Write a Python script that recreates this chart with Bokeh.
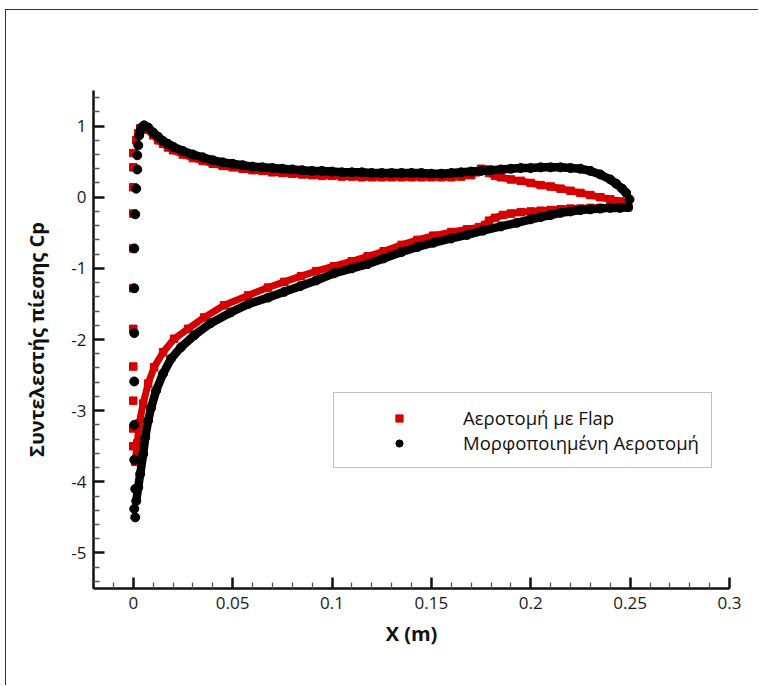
from bokeh.plotting import figure
from bokeh.models import (Range1d, FixedTicker, CustomJSTickFormatter,
                          Legend, LegendItem)
from bokeh.embed import file_html
from bokeh.resources import INLINE

# ---- Pressure coefficient data, X in metres ----
# Aerofoil with flap: isolated points round the leading edge
flap_le_x = [0.0, 0.0, 0.0, 0.0, 0.0, 0.0, 0.0, 0.0, 0.0, 0.0, 0.0]
flap_le_cp = [0.62, 0.42, 0.14, -0.23, -0.72, -1.28, -1.85, -2.38, -2.86, -3.25, -3.50]

# Aerofoil with flap: upper branch (stagnation peak to trailing edge)
flap_up_x = [0.0015, 0.0025, 0.0035, 0.005, 0.007, 0.01, 0.0125, 0.015, 0.0175, 0.02,
             0.025, 0.03, 0.035, 0.04, 0.045, 0.05, 0.055, 0.06, 0.065, 0.07,
             0.075, 0.08, 0.085, 0.09, 0.095, 0.1, 0.105, 0.11, 0.115, 0.12,
             0.125, 0.13, 0.135, 0.14, 0.145, 0.15, 0.155, 0.16, 0.165, 0.17,
             0.1725, 0.175, 0.177, 0.179, 0.182, 0.185, 0.19, 0.195, 0.2, 0.205,
             0.21, 0.215, 0.22, 0.225, 0.23, 0.235, 0.24, 0.245, 0.249]
flap_up_cp = [0.80, 0.90, 0.97, 0.99, 0.95, 0.87, 0.80, 0.75, 0.70, 0.66,
              0.60, 0.55, 0.51, 0.47, 0.44, 0.42, 0.40, 0.38, 0.37, 0.35,
              0.34, 0.33, 0.32, 0.31, 0.30, 0.30, 0.29, 0.29, 0.28, 0.28,
              0.28, 0.28, 0.28, 0.28, 0.28, 0.28, 0.28, 0.28, 0.29, 0.31,
              0.35, 0.40, 0.39, 0.34, 0.30, 0.28, 0.25, 0.23, 0.20, 0.17,
              0.15, 0.12, 0.09, 0.06, 0.03, 0.00, -0.03, -0.06, -0.09]

# Aerofoil with flap: lower branch (suction peak to trailing edge)
flap_lo_x = [0.001, 0.002, 0.003, 0.005, 0.0075, 0.0105, 0.015, 0.0206, 0.0276, 0.0357,
             0.0457, 0.0578, 0.0678, 0.076, 0.0844, 0.092, 0.101, 0.11, 0.118, 0.126,
             0.135, 0.143, 0.151, 0.16, 0.168, 0.174, 0.177, 0.179, 0.182, 0.186,
             0.19, 0.195, 0.2, 0.205, 0.21, 0.215, 0.22, 0.225, 0.23, 0.235,
             0.24, 0.245, 0.249]
flap_lo_cp = [-3.72, -3.46, -3.18, -2.90, -2.62, -2.39, -2.18, -1.99, -1.85, -1.69,
              -1.52, -1.38, -1.27, -1.19, -1.11, -1.04, -0.97, -0.90, -0.83, -0.76,
              -0.67, -0.60, -0.54, -0.49, -0.45, -0.42, -0.39, -0.33, -0.29, -0.25,
              -0.23, -0.21, -0.20, -0.19, -0.18, -0.17, -0.16, -0.16, -0.15, -0.15,
              -0.14, -0.14, -0.14]

# Morphed aerofoil: isolated points round the leading edge and the trailing edge
morph_iso_x = [0.0025, 0.002, 0.002, 0.0015, 0.001, 0.0005, 0.0005, 0.0005, 0.0005,
               0.0005, 0.0005, 0.001, 0.0005, 0.001, 0.2497]
morph_iso_cp = [0.73, 0.59, 0.39, 0.12, -0.24, -0.72, -1.28, -1.91, -2.59,
                -3.2, -3.69, -4.1, -4.38, -4.5, -0.03]

# Morphed aerofoil: upper branch
morph_up_x = [0.003, 0.004, 0.0055, 0.0075, 0.01, 0.0125, 0.015, 0.0175, 0.02, 0.025,
              0.03, 0.035, 0.04, 0.045, 0.05, 0.055, 0.06, 0.065, 0.07, 0.075,
              0.08, 0.085, 0.09, 0.095, 0.1, 0.105, 0.11, 0.115, 0.12, 0.125,
              0.13, 0.135, 0.14, 0.145, 0.15, 0.155, 0.16, 0.165, 0.17, 0.175,
              0.18, 0.185, 0.19, 0.195, 0.2, 0.205, 0.21, 0.215, 0.22, 0.225,
              0.23, 0.235, 0.24, 0.243, 0.246, 0.248]
morph_up_cp = [0.87, 0.97, 1.01, 0.98, 0.91, 0.85, 0.79, 0.75, 0.71, 0.65,
               0.60, 0.56, 0.52, 0.49, 0.47, 0.45, 0.43, 0.42, 0.41, 0.40,
               0.39, 0.38, 0.37, 0.37, 0.36, 0.35, 0.35, 0.35, 0.34, 0.34,
               0.34, 0.34, 0.34, 0.34, 0.33, 0.33, 0.34, 0.35, 0.36, 0.37,
               0.38, 0.39, 0.40, 0.41, 0.41, 0.42, 0.42, 0.42, 0.41, 0.40,
               0.37, 0.32, 0.25, 0.19, 0.12, 0.06]

# Morphed aerofoil: lower branch
morph_lo_x = [0.0015, 0.0025, 0.0035, 0.005, 0.006, 0.0075, 0.009, 0.0115, 0.015, 0.019,
              0.024, 0.0307, 0.039, 0.049, 0.058, 0.068, 0.076, 0.084, 0.092, 0.101,
              0.11, 0.118, 0.126, 0.135, 0.143, 0.151, 0.16, 0.168, 0.176, 0.185,
              0.193, 0.2, 0.205, 0.21, 0.215, 0.22, 0.225, 0.23, 0.235, 0.24,
              0.245, 0.249]
morph_lo_cp = [-4.27, -4.08, -3.89, -3.61, -3.38, -3.14, -2.96, -2.72, -2.48, -2.27,
               -2.11, -1.94, -1.77, -1.62, -1.50, -1.41, -1.33, -1.25, -1.17, -1.07,
               -1.00, -0.94, -0.86, -0.77, -0.70, -0.64, -0.58, -0.53, -0.47, -0.41,
               -0.36, -0.31, -0.28, -0.25, -0.22, -0.20, -0.18, -0.17, -0.16, -0.15,
               -0.15, -0.14]

series_names = ["Αεροτομή με Flap", "Μορφοποιημένη Αεροτομή"]
x_ticks = [0, 0.05, 0.1, 0.15, 0.2, 0.25, 0.3]
y_ticks = [-5, -4, -3, -2, -1, 0, 1]

RED = "#d40000"
BLACK = "#000000"
FONT = "Open Sans"

p = figure(width=753, height=676,
           x_range=Range1d(-0.02, 0.3), y_range=Range1d(-5.5, 1.5),
           output_backend="svg", toolbar_location=None,
           min_border_left=87, min_border_right=30,
           min_border_top=80, min_border_bottom=98,
           x_axis_label="X (m)", y_axis_label="Συντελεστής πίεσης Cp")
p.margin = (9, 0, 0, 5)
p.styles = {"border-top": "1px solid #333333", "border-left": "1px solid #333333"}
p.outline_line_color = None
p.grid.visible = False
p.background_fill_color = "white"
p.border_fill_color = "white"

# axes: ticks point into the plot
x_minor = [round(i * 0.01, 2) for i in range(-2, 31) if i % 5]
y_minor = [round(i * 0.2, 1) for i in range(-27, 8) if i % 5]
p.xaxis.ticker = FixedTicker(ticks=x_ticks, minor_ticks=x_minor)
p.yaxis.ticker = FixedTicker(ticks=y_ticks, minor_ticks=y_minor)
fmt = CustomJSTickFormatter(code="return (Math.round(tick * 1000) / 1000).toString();")
p.xaxis.formatter = fmt
p.yaxis.formatter = fmt

for ax in (p.xaxis, p.yaxis):
    ax.axis_line_width = 2.5
    ax.axis_line_color = "#111111"
    ax.major_tick_in = 11
    ax.major_tick_out = 0
    ax.minor_tick_in = 6
    ax.minor_tick_out = 0
    ax.major_tick_line_width = 2.5
    ax.major_tick_line_color = "#111111"
    ax.minor_tick_line_width = 1.3
    ax.minor_tick_line_color = "#555555"
    ax.major_label_text_font = FONT
    ax.major_label_text_font_size = "17px"
    ax.major_label_text_color = "#1a1a1a"
    ax.axis_label_text_font = FONT
    ax.axis_label_text_font_style = "bold"
    ax.axis_label_text_font_size = "20px"
    ax.axis_label_text_color = "#111111"
p.xaxis.major_label_standoff = 8
p.yaxis.major_label_standoff = 7
p.xaxis.axis_label_standoff = 8
p.yaxis.axis_label_standoff = 18

# aerofoil with flap: red squares
for bx, by in ((flap_up_x, flap_up_cp), (flap_lo_x, flap_lo_cp)):
    p.line(bx, by, line_color=RED, line_width=7, line_join="round", line_cap="round")
r_flap = p.scatter(flap_le_x + flap_up_x + flap_lo_x,
                   flap_le_cp + flap_up_cp + flap_lo_cp,
                   marker="square", size=7.5, fill_color=RED, line_color=RED)

# morphed aerofoil: black circles
for bx, by in ((morph_up_x, morph_up_cp), (morph_lo_x, morph_lo_cp)):
    p.line(bx, by, line_color=BLACK, line_width=8.5, line_join="round", line_cap="round")
r_morph = p.scatter(morph_iso_x + morph_up_x + morph_lo_x,
                    morph_iso_cp + morph_up_cp + morph_lo_cp,
                    marker="circle", size=9, fill_color=BLACK, line_color=BLACK)

legend = Legend(items=[LegendItem(label=series_names[0], renderers=[r_flap]),
                       LegendItem(label=series_names[1], renderers=[r_morph])],
                location=(240, 120), margin=0, padding=12, spacing=0,
                glyph_width=106, glyph_height=18, label_height=18,
                label_standoff=11, label_text_font=FONT,
                label_text_font_size="18.5px", label_text_color="#111111",
                border_line_color="#808080", border_line_width=1,
                background_fill_color="white", background_fill_alpha=1.0)
p.add_layout(legend)

open("out.html", "w").write(file_html(p, INLINE))
